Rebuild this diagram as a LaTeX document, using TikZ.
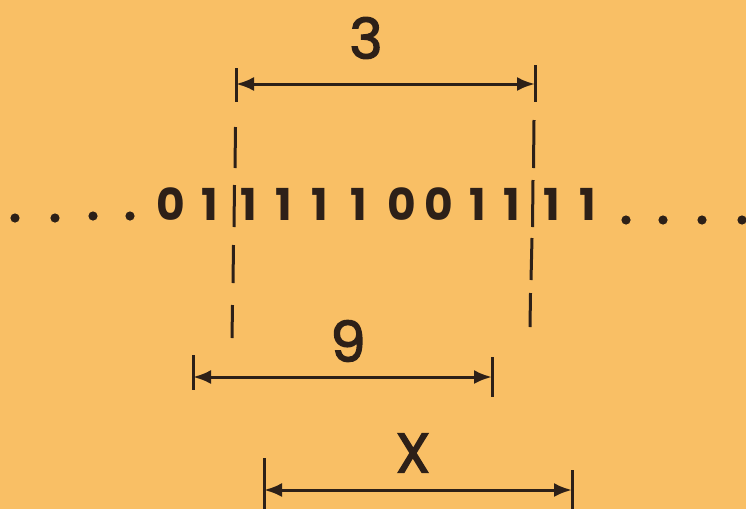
\documentclass[tikz,border=0pt]{standalone}
\usepackage{fontspec}
\setmainfont{Poppins}
\newfontfamily\labfont{Poppins}[FakeBold=2.5]
\usetikzlibrary{arrows.meta}
\definecolor{paper}{RGB}{249,191,101}
\definecolor{ink}{RGB}{45,32,24}
\tikzset{
  dim/.style={ink, line width=3pt, {Latex[length=18pt,width=14pt]}-{Latex[length=18pt,width=14pt]}},
  tick/.style={ink, line width=3pt},
  digit/.style={ink, inner sep=0pt, font=\fontsize{44}{44}\selectfont\bfseries},
  lab/.style={ink, inner sep=0pt, font=\fontsize{56}{56}\labfont},
  dot/.style={ink, fill=ink}
}
\begin{document}
\begin{tikzpicture}[x=1pt,y=-1pt]
\fill[paper] (0,0) rectangle (746,509);
\useasboundingbox (0,0) rectangle (746,509);
% dashed verticals
\foreach \a/\b/\xa/\xb [count=\i] in {68/102/236/236,127/168/235.5/235,185/227/234.5/234,245/283/233.5/233,305/338/232.5/232}
  \draw[tick] (\xa,\a) -- (\xb,\b);
\foreach \a/\b/\xa/\xb [count=\i] in {65/102/535/535,120/168/534/533.5,180/227/533/532.5,238/280/532/531,293/327/530.5/530}
  \draw[tick] (\xa,\a) -- (\xb,\b);
% arrow 3
\coordinate (a3l) at (236,84);
\coordinate (a3r) at (535,84);
\draw[dim] (a3l) -- (a3r);
\node[lab] (l3) at (366,38) {3};
% arrow 9
\coordinate (n9l) at (193,377);
\coordinate (n9r) at (492,377);
\draw[tick] (193,355) -- (193,390);
\draw[tick] (492,357) -- (492,397);
\draw[dim] (n9l) -- (n9r);
\node[lab] (l9) at (348,341) {9};
% arrow X
\coordinate (nxl) at (264,490);
\coordinate (nxr) at (572,490);
\draw[tick] (264,458) -- (264,509);
\draw[tick] (572,470) -- (572,509);
\draw[dim] (nxl) -- (nxr);
\node[lab] (lx) at (413,453) {X};
% digits
\foreach \x/\d [count=\i] in {171/0,210/1,249/1,284/1,320/1,359/1,402/0,439/0,478/1,512/1,552/1,588/1}
  \node[digit] (d\i) at (\x,204) {\d};
% dots
\foreach \x/\y [count=\i] in {15/218,55/218,93/216,130/216,626/220,663/220,702/220,742/220}
  \fill[dot] (\x,\y) circle (4.6);
\end{tikzpicture}
\end{document}
